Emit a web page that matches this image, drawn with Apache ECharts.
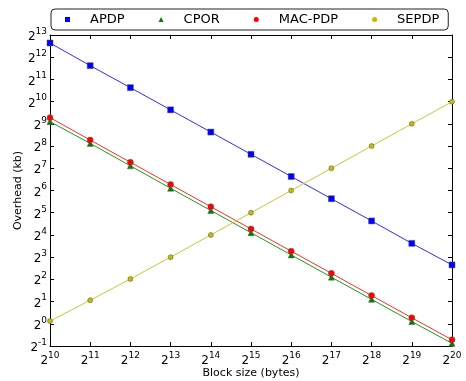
<!DOCTYPE html>
<html>
<head>
<meta charset="utf-8">
<script src="https://cdn.jsdelivr.net/npm/echarts@6/dist/echarts.min.js"></script>
<style>html,body{margin:0;padding:0;background:#fff}#c{width:466px;height:381px}</style>
</head>
<body>
<div id="c"></div>
<script>
// Block size exponents (bytes = 2^x)
var blockSizeLog2 = [10, 11, 12, 13, 14, 15, 16, 17, 18, 19, 20];
// Overhead values as log2(kb)
var apdpLog2   = [12.64, 11.62, 10.63, 9.63, 8.63, 7.63, 6.63, 5.63, 4.63, 3.62, 2.65];
var cporLog2   = [9.10, 8.12, 7.11, 6.10, 5.10, 4.10, 3.10, 2.10, 1.10, 0.10, -0.88];
var macpdpLog2 = [9.28, 8.27, 7.27, 6.27, 5.27, 4.27, 3.27, 2.27, 1.27, 0.27, -0.72];
var sepdpLog2  = [0.12, 1.06, 2.02, 3.00, 4.00, 5.00, 6.00, 7.00, 8.00, 9.00, 10.00];
var seriesNames = ['APDP', 'CPOR', 'MAC-PDP', 'SEPDP'];
var xTitle = 'Block size (bytes)';
var yTitle = 'Overhead (kb)';

function pairs(ys) { return blockSizeLog2.map(function (x, i) { return [x, ys[i]]; }); }
var FONT = 'DejaVu Sans';
function powLabel(v) { return '{b|2}{s|' + v + '}'; }
var rich = {
  b: { fontSize: 12, lineHeight: 16, verticalAlign: 'bottom', fontFamily: FONT, color: '#000' },
  s: { fontSize: 9, lineHeight: 8, verticalAlign: 'top', fontFamily: FONT, color: '#000' }
};
var axisLine = { show: true, onZero: false, lineStyle: { color: '#000', width: 1 } };
var axisTick = { show: true, inside: true, length: 4, lineStyle: { color: '#000', width: 1 } };

var chart = echarts.init(document.getElementById('c'), null, { renderer: 'canvas' });
var mk = function (name, ys, symbol, size, color, lineColor) {
  return {
    name: name, type: 'line', data: pairs(ys), symbol: symbol, symbolSize: size,
    showAllSymbol: true, animation: false,
    lineStyle: { color: lineColor, width: 1 },
    itemStyle: { color: color, borderColor: '#555', borderWidth: 0.5 },
    emphasis: { disabled: true }
  };
};
chart.setOption({
  animation: false,
  textStyle: { fontFamily: FONT },
  grid: { left: 50, right: 14, top: 35, bottom: 35, containLabel: false, outerBoundsMode: 'none' },
  legend: {
    left: 51, top: 9, padding: [4, 9, 4, 14], itemGap: 34,
    itemWidth: 5, itemHeight: 5,
    itemStyle: { borderWidth: 0 },
    borderColor: '#222', borderWidth: 1, borderRadius: 4, backgroundColor: '#fff',
    textStyle: { fontSize: 13, color: '#000', fontFamily: FONT, padding: [0, 0, 0, 15] },
    data: [
      { name: seriesNames[0], icon: 'rect' },
      { name: seriesNames[1], icon: 'triangle' },
      { name: seriesNames[2], icon: 'circle' },
      { name: seriesNames[3], icon: 'circle' }
    ]
  },
  xAxis: [{
    type: 'value', min: 10, max: 20, interval: 1, position: 'bottom',
    axisLine: axisLine, axisTick: axisTick, splitLine: { show: false },
    axisLabel: { margin: 5, formatter: powLabel, rich: rich, showMinLabel: true, showMaxLabel: true },
    name: xTitle, nameLocation: 'middle', nameGap: 22, nameMoveOverlap: false,
    nameTextStyle: { fontSize: 11, color: '#000', fontFamily: FONT }
  }, {
    type: 'value', min: 10, max: 20, interval: 1, position: 'top',
    axisLine: axisLine, axisTick: axisTick, splitLine: { show: false }, axisLabel: { show: false }
  }],
  yAxis: [{
    type: 'value', min: -1, max: 13, interval: 1, position: 'left',
    axisLine: axisLine, axisTick: axisTick, splitLine: { show: false },
    axisLabel: { margin: 3, formatter: powLabel, rich: rich, showMinLabel: true, showMaxLabel: true },
    name: yTitle, nameLocation: 'middle', nameGap: 26, nameMoveOverlap: false,
    nameTextStyle: { fontSize: 11, color: '#000', fontFamily: FONT }
  }, {
    type: 'value', min: -1, max: 13, interval: 1, position: 'right',
    axisLine: axisLine, axisTick: axisTick, splitLine: { show: false }, axisLabel: { show: false }
  }],
  series: [
    mk(seriesNames[0], apdpLog2, 'rect', 6, '#0000ff', '#2a2aff'),
    mk(seriesNames[1], cporLog2, 'triangle', 6, '#008000', '#1a9a1a'),
    mk(seriesNames[2], macpdpLog2, 'circle', 6, '#ff0000', '#ff2a2a'),
    mk(seriesNames[3], sepdpLog2, 'circle', 5, '#bfbf00', '#c8c830')
  ]
});
</script>
</body>
</html>
